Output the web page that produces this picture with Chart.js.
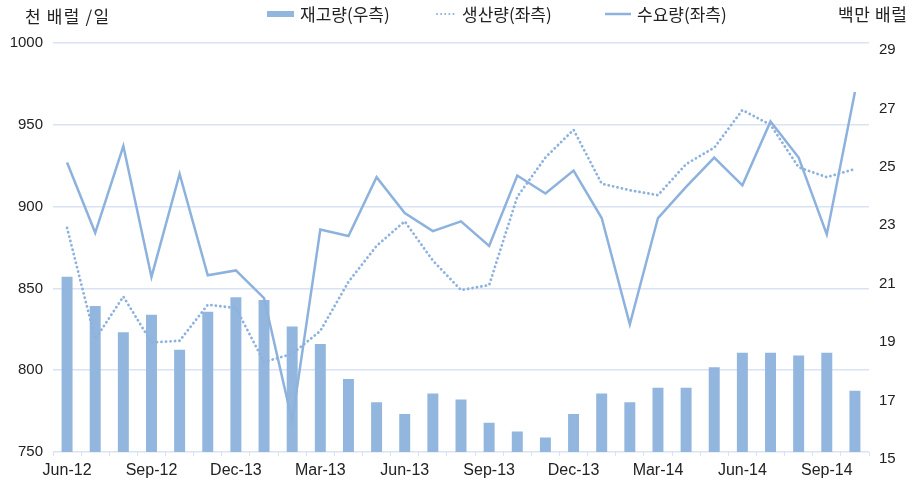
<!DOCTYPE html>
<html><head><meta charset="utf-8">
<script src="https://cdn.jsdelivr.net/npm/chart.js@4.4.0/dist/chart.umd.min.js"></script>
<style>html,body{margin:0;padding:0;background:#fff;}</style>
</head><body>
<canvas id="c" width="914" height="494"></canvas>
<script>
// ---- data ----
const categories = ['Jun-12','Jul-12','Aug-12','Sep-12','Oct-12','Nov-12','Dec-12','Jan-13','Feb-13','Mar-13','Apr-13','May-13','Jun-13','Jul-13','Aug-13','Sep-13','Oct-13','Nov-13','Dec-13','Jan-14','Feb-14','Mar-14','Apr-14','May-14','Jun-14','Jul-14','Aug-14','Sep-14','Oct-14'];
const tickLabels = ['Jun-12','Sep-12','Dec-13','Mar-13','Jun-13','Sep-13','Dec-13','Mar-14','Jun-14','Sep-14'];
const inventory = [21.0,20.0,19.1,19.7,18.5,19.8,20.3,20.2,19.3,18.7,17.5,16.7,16.3,17.0,16.8,16.0,15.7,15.5,16.3,17.0,16.7,17.2,17.2,17.9,18.4,18.4,18.3,18.4,17.1];
const production = [887,819,845,817,818,840,838,805,810,824,854,876,891,867,849,852,906,930,947,914,910,907,926,936,959,950,924,918,923];
const demand = [927,884,937,857,920,858,861,844,769,886,882,918,896,885,891,876,919,908,922,893,828,893,912,930,913,952,930,883,970];
const seriesNames = ['재고량(우측)','생산량(좌측)','수요량(좌측)'];
const leftTitle = '천 배럴 /일';
const rightTitle = '백만 배럴';

const FONT = "'Liberation Sans', 'Noto Sans CJK KR', sans-serif";
const KFONT = "'Noto Sans CJK KR', 'Liberation Sans', sans-serif";
const barColor = '#93b6df';
const lineColor = '#8db2dd';
const gridColor = '#d9e3f3';

const headerPlugin = {
  id: 'header',
  afterDraw(chart) {
    const ctx = chart.ctx;
    ctx.save();
    ctx.fillStyle = '#222';
    ctx.textBaseline = 'middle';
    ctx.textAlign = 'left';
    ctx.font = '17px ' + KFONT;
    ctx.letterSpacing = '1.2px';
    ctx.fillText(leftTitle, 25, 17);
    ctx.letterSpacing = '0.6px';
    ctx.fillText(rightTitle, 838, 15);
    ctx.letterSpacing = '0px';
    // legend
    const items = [{x:267,w:27},{x:437,w:19},{x:605,w:26}];
    const yc = 14;
    chart.data.datasets.forEach((ds, i) => {
      const it = items[i];
      if (ds.type === 'bar') {
        ctx.fillStyle = ds.backgroundColor;
        ctx.fillRect(it.x, yc - 3, it.w, 6);
      } else {
        ctx.strokeStyle = ds.borderColor;
        ctx.lineWidth = ds.borderDash ? 2 : 2.5;
        ctx.lineCap = ds.borderDash ? 'round' : 'butt';
        ctx.setLineDash(ds.borderDash ? [0.1, 4] : []);
        ctx.beginPath();
        ctx.moveTo(it.x, yc); ctx.lineTo(it.x + it.w, yc);
        ctx.stroke();
        ctx.setLineDash([]);
      }
      ctx.fillStyle = '#222';
      ctx.fillText(ds.label, it.x + it.w + 6, yc + 0.5);
    });
    ctx.restore();
  }
};

new Chart(document.getElementById('c'), {
  data: {
    labels: categories,
    datasets: [
      { type: 'bar', label: seriesNames[0], data: inventory, yAxisID: 'y2',
        backgroundColor: barColor, barPercentage: 0.39, categoryPercentage: 1, order: 3 },
      { type: 'line', label: seriesNames[1], data: production, yAxisID: 'y',
        borderColor: lineColor, borderWidth: 2.8, borderDash: [0.1, 4.4], borderCapStyle: 'round',
        pointRadius: 0, tension: 0, fill: false, order: 2 },
      { type: 'line', label: seriesNames[2], data: demand, yAxisID: 'y',
        borderColor: lineColor, borderWidth: 2.5, pointRadius: 0, tension: 0, fill: false, order: 1 }
    ]
  },
  options: {
    responsive: false,
    devicePixelRatio: 1,
    animation: false,
    layout: { padding: { top: 43, left: 0, right: 0, bottom: 0 } },
    plugins: { legend: { display: false }, tooltip: { enabled: false } },
    scales: {
      x: {
        type: 'category', offset: true,
        grid: { display: true, drawOnChartArea: false, drawTicks: true, tickLength: 4, color: gridColor, offset: true },
        border: { display: false },
        ticks: { autoSkip: false, maxRotation: 0, minRotation: 0, padding: 5, color: '#222',
          font: { family: FONT, size: 16 },
          callback: (v, i) => (i % 3 === 0 ? tickLabels[i / 3] : '') },
        afterFit: s => { s.height = 42; }
      },
      y: {
        position: 'left', min: 750, max: 1000,
        ticks: { stepSize: 50, padding: 10, color: '#222', font: { family: FONT, size: 15 },
          callback: v => String(v) },
        grid: { color: gridColor, lineWidth: 1.5, drawTicks: false },
        border: { display: false },
        afterFit: s => { s.width = 53; }
      },
      y2: {
        position: 'right', min: 15, max: 29,
        ticks: { stepSize: 2, padding: 10, labelOffset: 7, color: '#222', font: { family: FONT, size: 15 },
          callback: v => String(v) },
        grid: { display: false, drawTicks: false },
        border: { display: false },
        afterFit: s => { s.width = 45; }
      }
    }
  },
  plugins: [headerPlugin]
});
</script>
</body></html>
